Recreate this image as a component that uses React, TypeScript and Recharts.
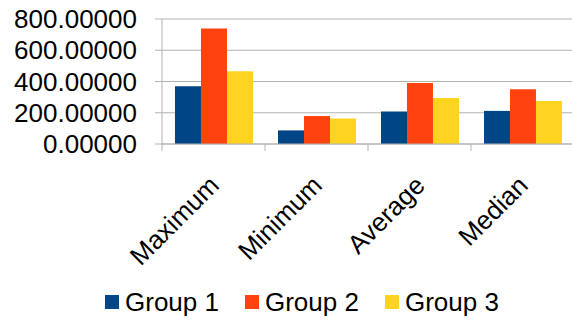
import { Bar, BarChart, CartesianGrid, Legend, XAxis, YAxis } from "recharts";

const categories = ["Maximum", "Minimum", "Average", "Median"];
const group1 = [369, 87, 208, 212];
const group2 = [739, 179, 390, 350];
const group3 = [466, 163, 295, 276];
const yTicks = [0, 200, 400, 600, 800];

const seriesNames = ["Group 1", "Group 2", "Group 3"];
const colors = ["#004586", "#ff420e", "#ffd320"];

const data = categories.map((name, i) => ({
  name,
  g1: group1[i],
  g2: group2[i],
  g3: group3[i],
}));

const FONT = "'Liberation Sans', Arial, sans-serif";
const GRID = "#b3b3b3";
const CHART_W = 574;
const Y_W = 162;
const BAND = (CHART_W - Y_W) / categories.length;

// LibreOffice-style ticks sit on category boundaries, labels rotated -45
const XTick = (props: any) => {
  const { x, y, payload } = props;
  const bx = x - BAND / 2;
  return (
    <g>
      <line x1={bx} x2={bx} y1={y} y2={y + 7} stroke={GRID} />
      <text
        transform={`translate(${x + 7},${y + 43}) rotate(-45)`}
        textAnchor="end"
        fontSize={26}
        fontFamily={FONT}
        fill="#000"
      >
        {payload.value}
      </text>
    </g>
  );
};

const LegendContent = () => (
  <div
    style={{
      height: 40,
      display: "flex",
      alignItems: "center",
      paddingLeft: 105,
      fontFamily: FONT,
      fontSize: 26,
      color: "#000",
    }}
  >
    {seriesNames.map((n, i) => (
      <div key={n} style={{ display: "flex", alignItems: "center", marginRight: 26 }}>
        <span style={{ width: 14, height: 14, background: colors[i], marginRight: 6, display: "inline-block" }} />
        <span>{n}</span>
      </div>
    ))}
  </div>
);

export default function App() {
  return (
    <div style={{ position: "absolute", left: 0, top: 0, width: 572, height: 322, overflow: "hidden", background: "#fff" }}>
      <BarChart
        width={CHART_W}
        height={322}
        data={data}
        margin={{ top: 19, right: 0, left: 0, bottom: 0 }}
        barCategoryGap="12.6%"
        barGap={0}
      >
        <CartesianGrid vertical={false} stroke={GRID} />
        <XAxis
          dataKey="name"
          height={138}
          interval={0}
          tickLine={false}
          tickSize={0}
          tickMargin={0}
          axisLine={{ stroke: GRID }}
          tick={<XTick />}
        />
        <YAxis
          width={Y_W}
          domain={[0, 800]}
          ticks={yTicks}
          interval={0}
          tickFormatter={(v: number) => v.toFixed(5)}
          tickSize={7}
          tickMargin={18}
          axisLine={{ stroke: GRID }}
          tickLine={{ stroke: GRID }}
          tick={{ fontSize: 26, fontFamily: FONT, fill: "#000" }}
        />
        <Legend verticalAlign="bottom" content={<LegendContent />} wrapperStyle={{ left: 0, width: 572 }} />
        <Bar dataKey="g1" name={seriesNames[0]} fill={colors[0]} isAnimationActive={false} />
        <Bar dataKey="g2" name={seriesNames[1]} fill={colors[1]} isAnimationActive={false} />
        <Bar dataKey="g3" name={seriesNames[2]} fill={colors[2]} isAnimationActive={false} />
      </BarChart>
    </div>
  );
}
